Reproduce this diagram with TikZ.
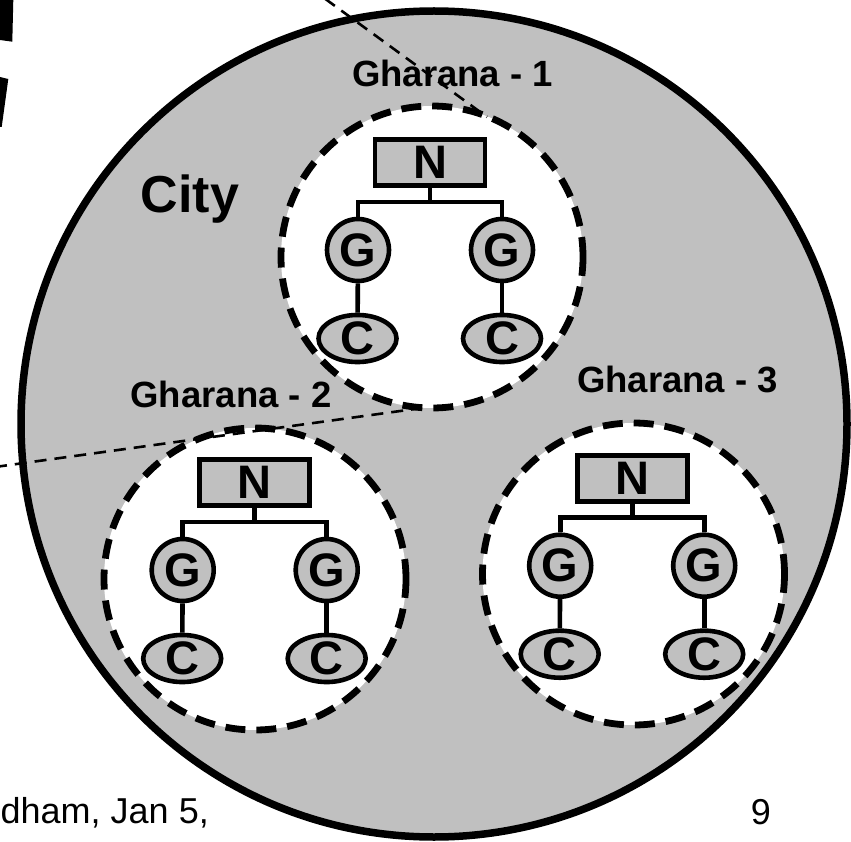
\documentclass[tikz,border=0pt]{standalone}
\usepackage{fontspec}
\setmainfont{Liberation Sans}
\usetikzlibrary{shapes.geometric}
\definecolor{cityfill}{HTML}{C0C0C0}
\begin{document}
\begin{tikzpicture}[x=1pt,y=-1pt,
  treefont/.style={font=\fontsize{47}{50}\selectfont\bfseries},
  nbox/.style={draw,line width=4.6pt,fill=cityfill,rectangle,minimum width=110pt,minimum height=46pt,inner sep=0pt,treefont},
  gnode/.style={draw,line width=4.6pt,fill=cityfill,circle,minimum size=62pt,inner sep=0pt,treefont},
  cnode/.style={draw,line width=4.6pt,fill=cityfill,ellipse,minimum width=78pt,minimum height=45pt,inner sep=0pt,treefont},
  conn/.style={line width=4.6pt},
  gharana/.style={draw,line width=6.8pt,dash pattern=on 20pt off 11pt,fill=white},
  glabel/.style={font=\fontsize{36.5}{42}\selectfont\bfseries,anchor=base,inner sep=0pt},
  footfont/.style={font=\fontsize{36}{40}\selectfont,inner sep=0pt},
  ptrline/.style={line width=2.6pt,dash pattern=on 12pt off 8pt},
  tree/.pic={
    \node[nbox] (-n) at (0,-87.5) {N};
    \node[gnode] (-gl) at (-72,0) {G};
    \node[gnode] (-gr) at (72,0) {G};
    \node[cnode] (-cl) at (-72.5,88.5) {C};
    \node[cnode] (-cr) at (72,88.5) {C};
    \coordinate (-j) at (0,-48);
    \draw[conn] (-n.south) -- (-j) -| (-gl.north);
    \draw[conn] (-j) -| (-gr.north);
    \draw[conn] (-gl) -- (-cl);
    \draw[conn] (-gr) -- (-cr);
  }
]
\useasboundingbox (0,0) rectangle (851,842);
\clip (0,0) rectangle (851,842);

% remnants of large title letters at the top left
\fill (0,0) -- (13.3,0) -- (12.3,41.7) -- (0,40) -- cycle;
\fill (0,77) -- (8.3,79) -- (1.7,127) -- (0,127) -- cycle;

% city
\draw[line width=7.5pt,fill=cityfill] (434,424) circle[radius=413pt];
\node[font=\fontsize{52}{58}\selectfont\bfseries,anchor=base,inner sep=0pt] (city) at (190,213) {City};

% gharanas
\draw[gharana] (432,257) circle[radius=151pt];
\draw[gharana] (255,579) circle[radius=151pt];
\draw[gharana] (633.5,574) circle[radius=151pt];

\node[glabel] (g1) at (452.5,87) {Gharana - 1};
\node[glabel] (g2) at (231,407) {Gharana - 2};
\node[glabel] (g3) at (677.5,392) {Gharana - 3};

\pic (t1) at (430,250) {tree};
\pic (t2) at (254.7,570) {tree};
\pic (t3) at (632.2,565.7) {tree};

% thin dashed pointer lines
\coordinate (a1) at (309,-13);
\coordinate (a2) at (487,117);
\coordinate (b1) at (-5,467);
\coordinate (b2) at (422,408);
\draw[ptrline] (a1) -- (a2);
\draw[ptrline] (b1) -- (b2);

% footer
\node[footfont,anchor=base west] (foot) at (0.5,823) {dham, Jan 5,};
\node[footfont,anchor=base] (page) at (761,824) {9};
\end{tikzpicture}
\end{document}
